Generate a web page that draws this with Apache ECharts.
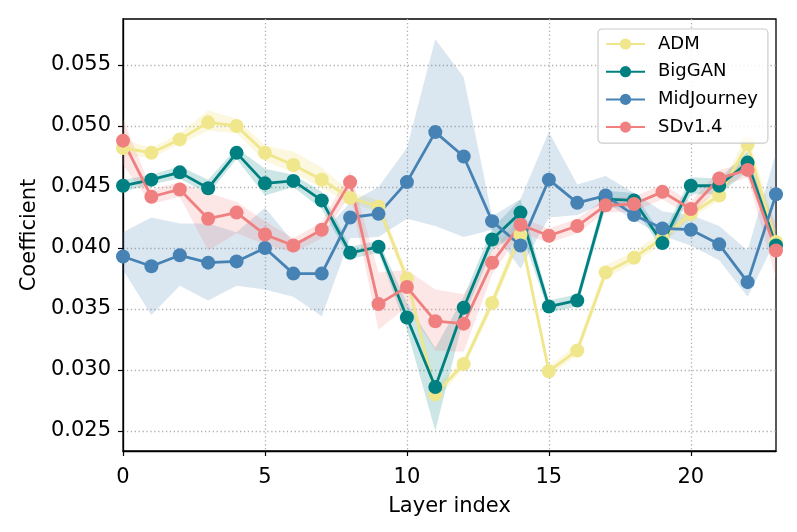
<!DOCTYPE html>
<html>
<head>
<meta charset="utf-8">
<script src="https://cdn.jsdelivr.net/npm/echarts@6/dist/echarts.min.js"></script>
<style>
html,body{margin:0;padding:0;background:#fff;}
#chart{width:797px;height:532px;}
</style>
</head>
<body>
<div id="chart"></div>
<script>
// ---- data ----
const layers = [0,1,2,3,4,5,6,7,8,9,10,11,12,13,14,15,16,17,18,19,20,21,22,23];
const seriesNames = ['ADM','BigGAN','MidJourney','SDv1.4'];
const xTickStep = 5;
const yTicks = [0.025,0.030,0.035,0.040,0.045,0.050,0.055];

const admMean = [0.0482,0.0478,0.0489,0.0503,0.0500,0.0478,0.0468,0.0456,0.0441,0.0434,0.0375,0.0280,0.0305,0.0355,0.0411,0.0299,0.0316,0.0380,0.0392,0.0408,0.0428,0.0443,0.0485,0.0405];
const admLo   = [0.0476,0.0474,0.0485,0.0496,0.0494,0.0471,0.0462,0.0449,0.0437,0.0430,0.0370,0.0275,0.0301,0.0350,0.0405,0.0295,0.0312,0.0375,0.0388,0.0403,0.0424,0.0439,0.0477,0.0395];
const admHi   = [0.0489,0.0482,0.0494,0.0513,0.0506,0.0484,0.0479,0.0466,0.0446,0.0439,0.0381,0.0286,0.0309,0.0360,0.0418,0.0303,0.0321,0.0386,0.0397,0.0414,0.0433,0.0448,0.0494,0.0415];

const bigMean = [0.0451,0.0456,0.0462,0.0449,0.0478,0.0453,0.0455,0.0439,0.0396,0.0401,0.0343,0.0286,0.0351,0.0407,0.0429,0.0352,0.0357,0.0440,0.0439,0.0404,0.0451,0.0451,0.0470,0.0402];
const bigLo   = [0.0446,0.0452,0.0457,0.0444,0.0473,0.0443,0.0450,0.0432,0.0391,0.0396,0.0333,0.0250,0.0343,0.0398,0.0415,0.0347,0.0352,0.0433,0.0434,0.0398,0.0444,0.0444,0.0463,0.0395];
const bigHi   = [0.0456,0.0460,0.0467,0.0456,0.0482,0.0465,0.0460,0.0446,0.0401,0.0406,0.0355,0.0318,0.0360,0.0416,0.0440,0.0357,0.0362,0.0447,0.0445,0.0410,0.0458,0.0457,0.0479,0.0410];

const midMean = [0.0393,0.0385,0.0394,0.0388,0.0389,0.0400,0.0379,0.0379,0.0425,0.0428,0.0454,0.0495,0.0475,0.0422,0.0402,0.0456,0.0437,0.0443,0.0427,0.0416,0.0415,0.0403,0.0372,0.0444];
const midLo   = [0.0382,0.0345,0.0369,0.0357,0.0369,0.0366,0.0360,0.0344,0.0408,0.0409,0.0424,0.0418,0.0409,0.0415,0.0383,0.0425,0.0427,0.0437,0.0423,0.0410,0.0402,0.0390,0.0360,0.0407];
const midHi   = [0.0413,0.0425,0.0420,0.0420,0.0413,0.0433,0.0405,0.0412,0.0437,0.0450,0.0482,0.0571,0.0540,0.0426,0.0440,0.0495,0.0452,0.0459,0.0445,0.0430,0.0427,0.0418,0.0398,0.0478];

const sdMean  = [0.0488,0.0442,0.0448,0.0424,0.0429,0.0411,0.0402,0.0415,0.0454,0.0354,0.0368,0.0340,0.0338,0.0388,0.0419,0.0410,0.0418,0.0435,0.0436,0.0446,0.0432,0.0457,0.0464,0.0398];
const sdLo    = [0.0468,0.0436,0.0442,0.0398,0.0412,0.0403,0.0396,0.0408,0.0444,0.0333,0.0352,0.0316,0.0315,0.0378,0.0413,0.0404,0.0412,0.0429,0.0430,0.0440,0.0426,0.0450,0.0458,0.0375];
const sdHi    = [0.0506,0.0448,0.0454,0.0445,0.0438,0.0422,0.0408,0.0421,0.0463,0.0380,0.0382,0.0366,0.0362,0.0398,0.0425,0.0416,0.0424,0.0441,0.0442,0.0452,0.0438,0.0464,0.0470,0.0420];

const colors = ['#F0E68C','#008080','#4682B4','#F08080'];
const bandColors = ['rgba(240,230,140,0.28)','rgba(0,128,128,0.2)','rgba(70,130,180,0.2)','rgba(240,128,128,0.2)'];

// ---- build ----
const groups = [
  [admMean, admLo, admHi],
  [bigMean, bigLo, bigHi],
  [midMean, midLo, midHi],
  [sdMean, sdLo, sdHi]
];

const series = [];
groups.forEach((g, i) => {
  const [mean, lo, hi] = g;
  const stackId = 'band' + i;
  series.push({
    name: seriesNames[i] + ' lo',
    type: 'line',
    stack: stackId,
    data: lo.slice(),
    showSymbol: false,
    symbol: 'none',
    lineStyle: { opacity: 0, width: 0 },
    silent: true,
    z: 2
  });
  series.push({
    name: seriesNames[i] + ' band',
    type: 'line',
    stack: stackId,
    data: hi.map((h, k) => +(h - lo[k]).toFixed(6)),
    showSymbol: false,
    symbol: 'none',
    lineStyle: { opacity: 0, width: 0 },
    areaStyle: { color: bandColors[i], opacity: 1 },
    silent: true,
    z: 2
  });
  series.push({
    name: seriesNames[i],
    type: 'line',
    data: mean.slice(),
    symbol: 'circle',
    symbolSize: 14,
    showSymbol: true,
    lineStyle: { color: colors[i], width: 2.8 },
    itemStyle: { color: colors[i], borderWidth: 0 },
    z: 2
  });
});

const tickFn = (idx) => idx % xTickStep === 0;
const chart = echarts.init(document.getElementById('chart'), null, { renderer: 'canvas' });
const font = 'DejaVu Sans';
const gridLine = { color: '#b0b0b0', type: [1.3, 2.6], width: 1.3 };
chart.setOption({
  animation: false,
  backgroundColor: '#fff',
  grid: {
    left: 123, right: 21, top: 19, bottom: 81,
    show: true, borderColor: '#000', borderWidth: 1.3, backgroundColor: 'transparent'
  },
  legend: {
    data: seriesNames,
    orient: 'vertical',
    left: 598, top: 29,
    width: 170,
    padding: [6, 10, 7, 7],
    itemWidth: 39, itemHeight: 14, itemGap: 9.7,
    backgroundColor: 'rgba(255,255,255,0.85)',
    borderColor: '#cccccc', borderWidth: 1.2, borderRadius: 4,
    z: 10,
    textStyle: { fontFamily: font, fontSize: 18, color: '#000', lineHeight: 18, padding: [0,0,0,8] }
  },
  xAxis: {
    type: 'category', data: layers.map(String), boundaryGap: false,
    name: 'Layer index', nameLocation: 'middle', nameGap: 45,
    nameTextStyle: { fontFamily: font, fontSize: 21, color: '#000' },
    axisLine: { show: true, onZero: false, lineStyle: { color: '#000', width: 1.3 } },
    axisTick: { show: true, length: 5, interval: (idx) => tickFn(idx), alignWithLabel: true, lineStyle: { color: '#000', width: 1.2 } },
    axisLabel: { fontFamily: font, fontSize: 21, color: '#000', margin: 16, interval: (idx) => tickFn(idx) },
    splitLine: { show: true, interval: (idx) => tickFn(idx), lineStyle: gridLine }
  },
  yAxis: {
    type: 'value', min: 0.02336, max: 0.05877,
    name: 'Coefficient', nameLocation: 'middle', nameGap: 76, nameRotate: 90,
    nameTextStyle: { fontFamily: font, fontSize: 21, color: '#000' },
    axisLine: { show: true, onZero: false, lineStyle: { color: '#000', width: 1.3 } },
    axisTick: { show: true, length: 5, lineStyle: { color: '#000', width: 1.2 }, customValues: yTicks },
    axisLabel: { fontFamily: font, fontSize: 21, color: '#000', margin: 12, customValues: yTicks,
      formatter: v => Number(v).toFixed(3) },
    splitLine: { show: true, lineStyle: gridLine }
  },
  series: series
});
</script>
</body>
</html>
